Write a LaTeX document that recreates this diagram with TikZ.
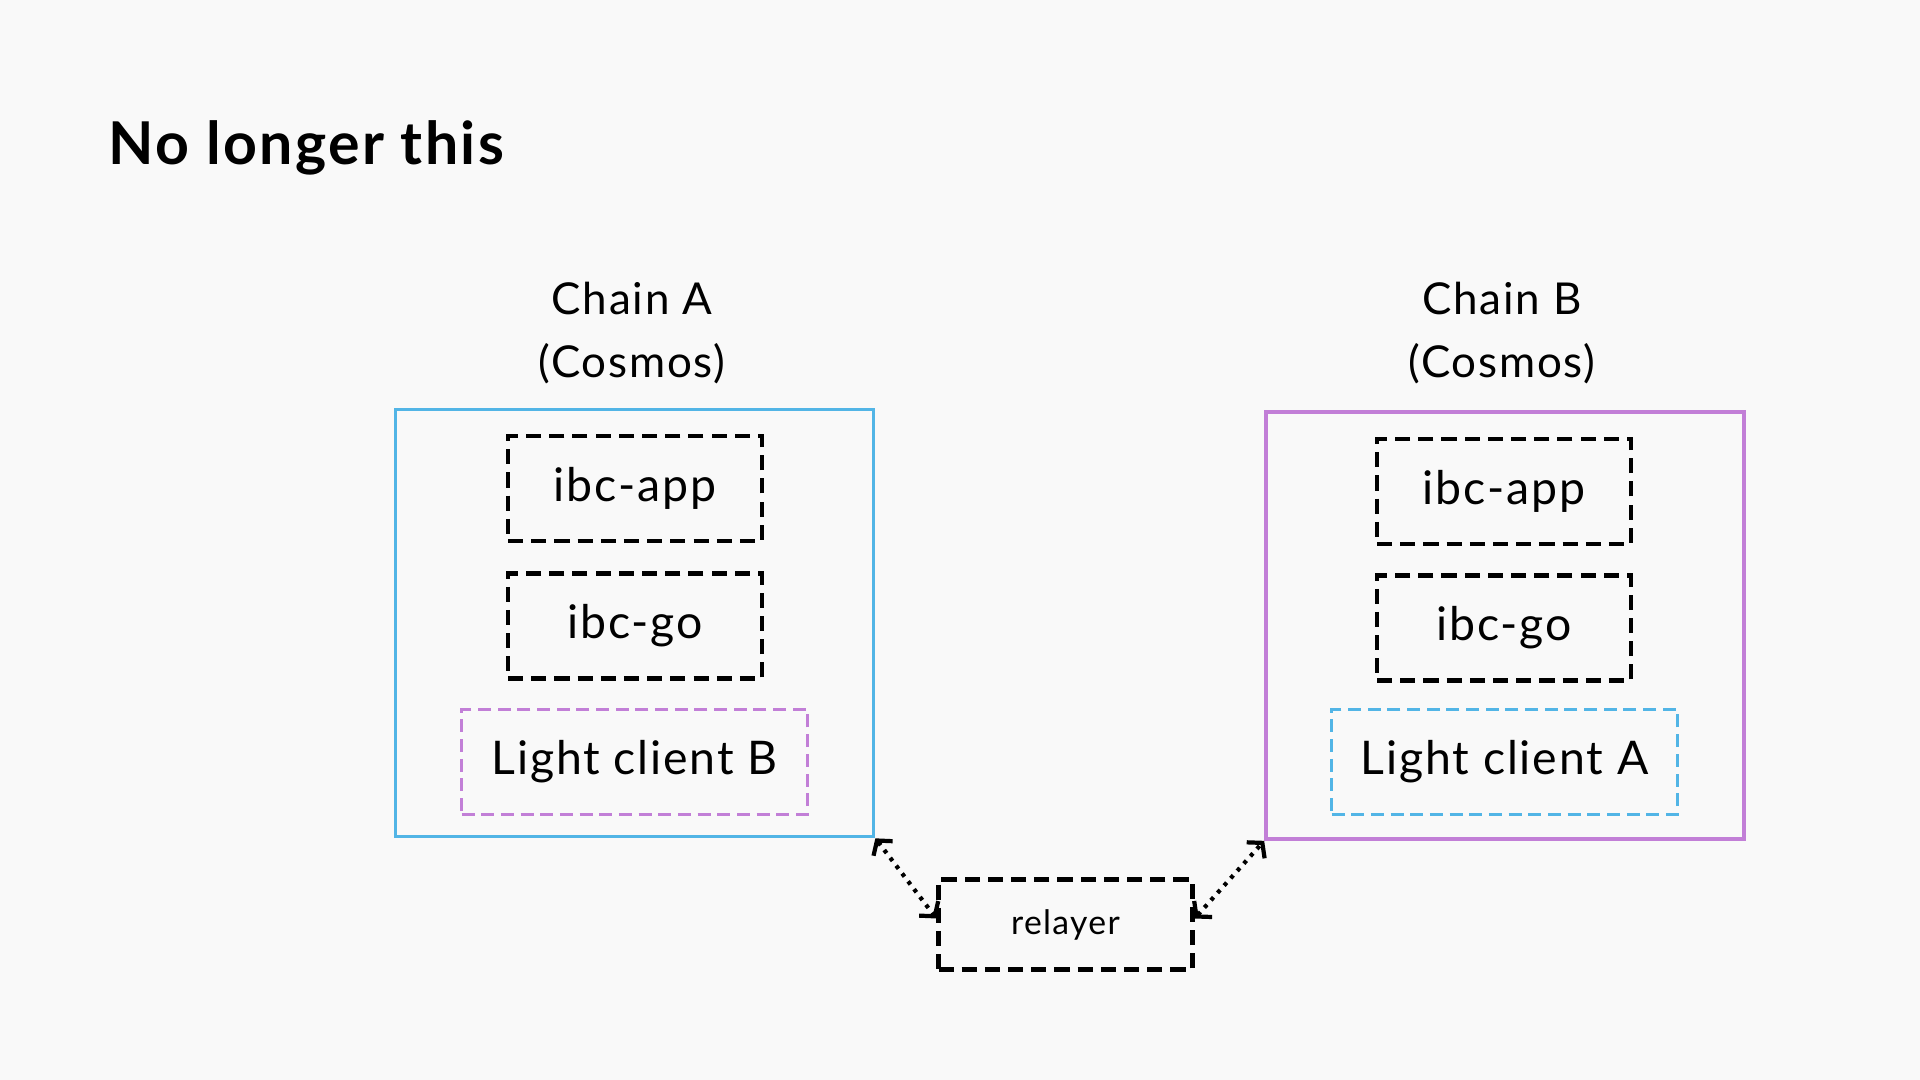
\documentclass[tikz,border=0pt]{standalone}
\usepackage{fontspec}
\setmainfont{Lato}[LetterSpace=4]
\usetikzlibrary{arrows.meta}
\definecolor{chainblue}{HTML}{52B5E6}
\definecolor{chainpurple}{HTML}{C27FD7}
\definecolor{pagebg}{HTML}{F9F9F9}

\begin{document}
\begin{tikzpicture}[scale=1.0,
    every node/.style={inner sep=0pt, font=\fontsize{13.2}{15}\selectfont},
    chain/.style={draw, line width=1.05pt, minimum width=4.78cm, minimum height=4.27cm},
    layer/.style={draw, line width=1.2pt, dash pattern=on 4.3pt off 2.3pt, minimum width=2.54cm, minimum height=1.05cm},
    client/.style={draw, line width=0.95pt, dash pattern=on 3.7pt off 1.9pt, minimum width=3.46cm, minimum height=1.05cm},
    link/.style={line width=1.2pt, dash pattern=on 1.1pt off 1.7pt, {Straight Barb[length=1mm,width=2.4mm]}-{Straight Barb[length=1mm,width=2.4mm]}}]
        \fill[pagebg] (0,0) rectangle (19.2,10.8);
        \useasboundingbox (0,0) rectangle (19.2,10.8);
        \node[anchor=base west, font=\fontsize{16.8}{20}\selectfont\bfseries] (title) at (1.08,9.15) {No longer this};
        \node[align=center, font=\fontsize{12.5}{17.9}\selectfont] (labelA) at (6.32,7.47) {Chain A\\(Cosmos)};
        \node[align=center, font=\fontsize{12.5}{17.9}\selectfont] (labelB) at (15.02,7.47) {Chain B\\(Cosmos)};
        \node[chain, draw=chainblue] (chainA) at (6.345,4.57) {};
        \node[chain, draw=chainpurple] (chainB) at (15.05,4.545) {};
        \node[layer] (appA) at (6.35,5.915) {ibc-app};
        \node[layer] (goA) at (6.35,4.54) {ibc-go};
        \node[client, draw=chainpurple] (clientB) at (6.345,3.18) {Light client B};
        \node[layer] (appB) at (15.04,5.885) {ibc-app};
        \node[layer] (goB) at (15.04,4.52) {ibc-go};
        \node[client, draw=chainblue] (clientA) at (15.045,3.18) {Light client A};
        \node[layer, minimum height=0.9cm, font=\fontsize{9.6}{11}\selectfont] (relayer) at (10.655,1.555) {relayer};
        \draw[link] (chainA.south east) -- ([yshift=0.06cm]relayer.west);
        \draw[link] ([yshift=0.06cm]relayer.east) -- (chainB.south west);
    \end{tikzpicture}
\end{document}
